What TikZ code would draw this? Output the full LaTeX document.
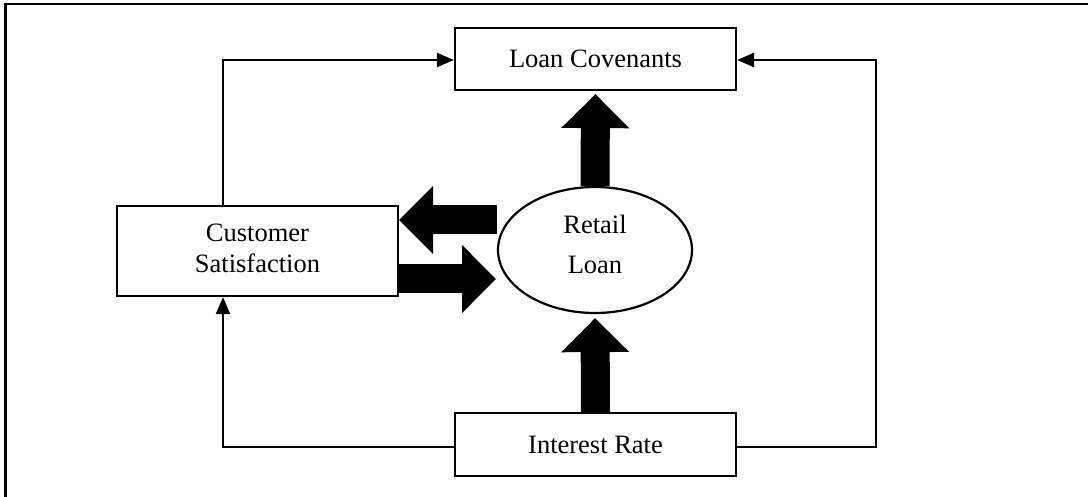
\documentclass[tikz,border=0pt]{standalone}
\usepackage{fontspec}
\setmainfont{Liberation Serif}
\usetikzlibrary{arrows.meta,shapes.geometric}
\pgfdeclarelayer{edgelayer}
\pgfdeclarelayer{nodelayer}
\pgfsetlayers{edgelayer,nodelayer,main}
\tikzset{
  box/.style={draw, line width=2.2pt, fill=white, minimum width=281pt, inner sep=0pt},
  link/.style={line width=2.2pt, -{Triangle[length=17pt,width=14pt]}},
  fat arrow/.style={line width=29pt, -{Triangle[length=34pt,width=66pt]}},
}

\begin{document}
\begin{tikzpicture}[x=1pt, y=-1pt, font=\fontsize{26.5}{31}\selectfont]
  \useasboundingbox (0, 0) rectangle (1088, 497);
  % frame
  \draw [line width=2.5pt] (1088, 4) -- (5.3, 4) -- (5.3, 497);
  % nodes
	\node [box, minimum height=62pt] (0) at (595.5, 59) {Loan Covenants};
	\node [box, minimum height=90pt, align=center, text depth=5pt] (1) at (257.5, 251) {Customer\\Satisfaction};
	\node [draw, ellipse, fill=white, line width=2.2pt, minimum width=194pt, minimum height=126pt, inner sep=0pt, align=center, text depth=12pt] (2) at (595, 250) {Retail\\[9pt]Loan};
	\node [box, minimum height=63pt] (3) at (595.5, 444.5) {Interest Rate};
	\coordinate (4) at (876, 250);
	\coordinate (5) at (497, 220);
	\coordinate (6) at (496, 279);
	% edges
	\draw [link] ([xshift=-34.5pt]1.north) |- ([yshift=-1pt]0.west);
	\draw [link] ([yshift=-2.5pt]3.west) -| ([xshift=-34.5pt]1.south);
	\draw [link] ([yshift=-2.5pt]3.east) -| (4) |- ([yshift=-1pt]0.east);
	%% thick arrows
	\begin{pgfonlayer}{edgelayer}
	\draw [fat arrow, shorten >=3pt] (2.north) to (0.south);
	\draw [fat arrow, shorten >=4pt] (3.north) to (2.south);
	\draw [fat arrow] (5) to (5 -| 1.east);
	\draw [fat arrow] (6 -| 1.east) to (6);
	\end{pgfonlayer}
\end{tikzpicture}
\end{document}
